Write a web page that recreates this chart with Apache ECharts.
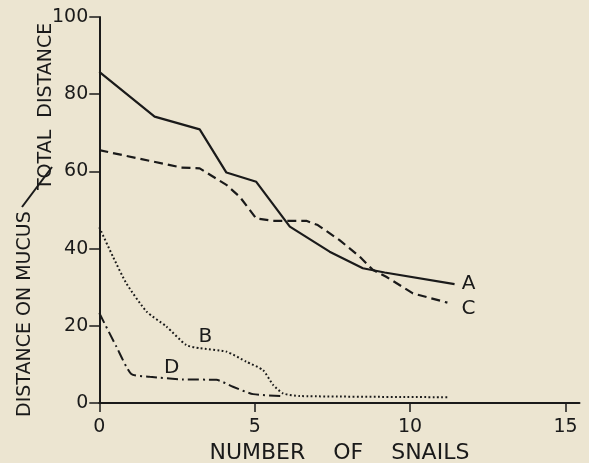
<!DOCTYPE html>
<html>
<head>
<meta charset="utf-8">
<script src="https://cdn.jsdelivr.net/npm/echarts@6/dist/echarts.min.js"></script>
<style>
html,body{margin:0;padding:0;background:#ece5d1;}
#chart{width:589px;height:463px;}
</style>
</head>
<body>
<div id="chart"></div>
<script>
// Data
var xTicks = [0, 5, 10, 15];
var yTicks = [0, 20, 40, 60, 80, 100];

var aX = [0, 1.78, 3.23, 4.09, 5.05, 6.13, 7.41, 8.48, 9.18, 11.43];
var aY = [85.8, 74.2, 70.9, 59.7, 57.3, 45.7, 39.2, 34.9, 33.8, 30.8];

var bX = [0, 0.44, 0.87, 1.52, 2.16, 2.8, 3.23, 4.09, 4.73, 5.27, 5.59, 5.91, 6.45, 11.2];
var bY = [45.5, 37.9, 31.0, 23.7, 19.8, 15.0, 14.2, 13.3, 10.7, 8.5, 4.7, 2.5, 1.8, 1.5];

var cX = [0, 2.64, 3.23, 4.09, 4.52, 5.05, 5.59, 6.66, 7.03, 7.73, 8.38, 8.8, 9.23, 10.09, 11.2];
var cY = [65.5, 61.0, 60.8, 56.5, 53.4, 47.8, 47.2, 47.2, 46.1, 42.2, 37.9, 34.5, 32.7, 28.4, 26.0];

var dX = [0, 0.55, 1.03, 1.62, 2.69, 3.77, 4.3, 4.95, 5.91];
var dY = [23.3, 14.6, 7.5, 6.8, 6.1, 6.0, 4.2, 2.3, 1.8];

var seriesNames = ['A', 'B', 'C', 'D'];

function pairs(xs, ys) { return xs.map(function (x, i) { return [x, ys[i]]; }); }

var INK = '#1a1a1a';
var FONT = 'DejaVu Sans';

function tag(name, coord) {
  return {
    symbol: 'rect', symbolSize: 1, silent: true,
    itemStyle: { color: 'transparent' },
    label: { show: true, position: 'inside', formatter: name, color: INK, fontSize: 20, fontFamily: FONT },
    data: [{ coord: coord }]
  };
}

var chart = echarts.init(document.getElementById('chart'), null, { renderer: 'canvas' });
chart.setOption({
  backgroundColor: '#ece5d1',
  animation: false,
  grid: { left: 99.3, right: 9.5, top: 17, bottom: 60, containLabel: false, outerBoundsMode: 'none' },
  xAxis: {
    type: 'value', min: 0, max: 15.45, interval: 5,
    name: 'NUMBER    OF    SNAILS', nameLocation: 'middle', nameGap: 39,
    nameTextStyle: { color: INK, fontSize: 22, fontFamily: FONT },
    axisLine: { show: true, onZero: false, lineStyle: { color: INK, width: 2 } },
    axisTick: { show: true, length: 9, customValues: xTicks, lineStyle: { color: INK, width: 1.5 } },
    axisLabel: { customValues: xTicks, margin: 15, color: INK, fontSize: 19, fontFamily: FONT },
    splitLine: { show: false }
  },
  yAxis: {
    type: 'value', min: 0, max: 100, interval: 20,
    axisLine: { show: true, onZero: false, lineStyle: { color: INK, width: 2 } },
    axisTick: { show: true, length: 10, customValues: yTicks, lineStyle: { color: INK, width: 1.5 } },
    axisLabel: { customValues: yTicks, margin: 11, padding: [4, 0, 0, 0], color: INK, fontSize: 19, fontFamily: FONT },
    splitLine: { show: false }
  },
  graphic: [
    { type: 'text', x: 25, y: 417, rotation: Math.PI / 2,
      style: { text: 'DISTANCE ON MUCUS', fill: INK, fontSize: 19, fontFamily: FONT, align: 'left', verticalAlign: 'middle' } },
    { type: 'line', shape: { x1: 22, y1: 207, x2: 52, y2: 167 }, style: { stroke: INK, lineWidth: 2 } },
    { type: 'text', x: 46, y: 190, rotation: Math.PI / 2,
      style: { text: 'TOTAL  DISTANCE', fill: INK, fontSize: 19, fontFamily: FONT, align: 'left', verticalAlign: 'middle' } }
  ],
  series: [
    { name: seriesNames[0], type: 'line', data: pairs(aX, aY), showSymbol: false, smooth: false,
      lineStyle: { color: INK, width: 2.2, type: 'solid' }, markPoint: tag('A', [11.88, 30.8]) },
    { name: seriesNames[1], type: 'line', data: pairs(bX, bY), showSymbol: false, smooth: 0.2,
      lineStyle: { color: INK, width: 2, type: [1.8, 2.4] }, markPoint: tag('B', [3.41, 17.2]) },
    { name: seriesNames[2], type: 'line', data: pairs(cX, cY), showSymbol: false, smooth: false,
      lineStyle: { color: INK, width: 2.2, type: [9, 5] }, markPoint: tag('C', [11.88, 24.35]) },
    { name: seriesNames[3], type: 'line', data: pairs(dX, dY), showSymbol: false, smooth: 0.2,
      lineStyle: { color: INK, width: 2, type: [11, 4, 2, 4] }, markPoint: tag('D', [2.33, 9.2]) }
  ]
});
</script>
</body>
</html>
